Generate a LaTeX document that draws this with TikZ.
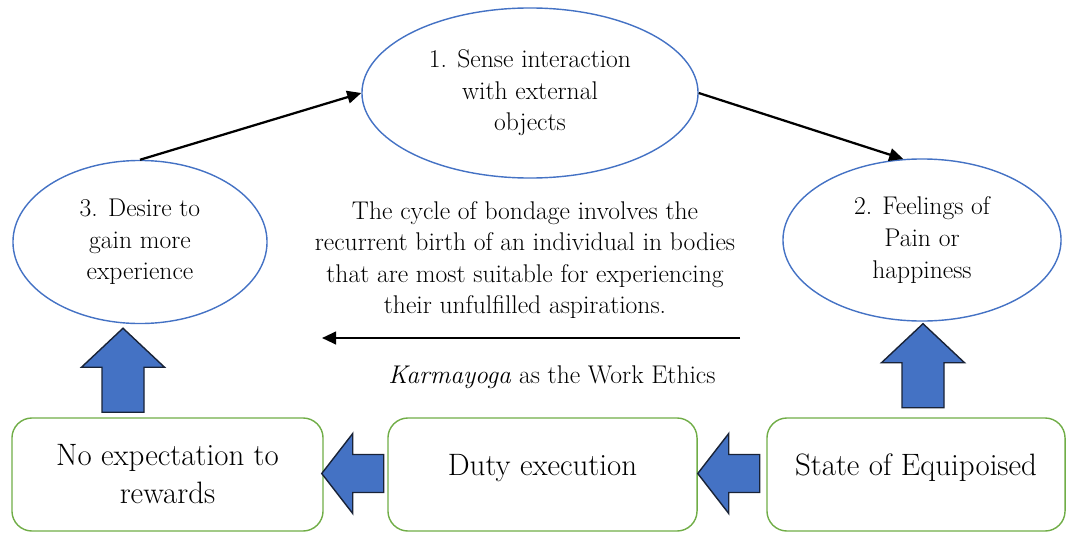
\documentclass[tikz,border=0pt]{standalone}
\usetikzlibrary{positioning, arrows.meta, shapes.geometric, calc}
\definecolor{ovalblue}  {RGB}{68, 114, 196}
\definecolor{boxgreen}  {RGB}{112, 173, 71}
\definecolor{arrowedge} {RGB}{25, 35, 55}
\tikzset{
  % Stage of the cycle
  stage/.style={
    ellipse, inner sep=0pt,
    draw=ovalblue, line width=1pt,
    font=\fontsize{18.2}{22.5}\selectfont, align=center, text=black
  },
  % Free text
  note/.style={font=\fontsize{18.2}{22.5}\selectfont, align=center},
  % Work ethics box
  ethic/.style={
    rectangle, rounded corners=0.5cm,
    minimum height=2.825cm,
    draw=boxgreen, line width=1pt,
    font=\fontsize{22}{27}\selectfont, align=center, text=black
  },
  % Thin cycle arrow
  arr/.style={-{Triangle[length=10pt, width=9pt]}, line width=1.6pt, color=black},
  % Fat block arrows, tip at the pic origin
  fat/.style={fill=ovalblue, draw=arrowedge, line width=1pt},
  pics/fatup/.style={code={
    \draw[fat] (0,0) -- (41.5,39) -- (21,39) -- (21,84) -- (-21,84)
      -- (-21,39) -- (-41.5,39) -- cycle;}},
  pics/fatleft/.style={code={
    \draw[fat] (0,0) -- (31,-40) -- (31,-19) -- (62,-19) -- (62,19)
      -- (31,19) -- (31,40) -- cycle;}},
}
\begin{document}
\begin{tikzpicture}[x=0.025cm, y=-0.025cm]
  \useasboundingbox (0,0) rectangle (1069,532);
  % the three stages
  \node[stage, minimum width=8.4cm, minimum height=4.25cm] (sense) at (530,93)
    {1. Sense interaction\\with external\\objects};
  \node[stage, minimum width=6.95cm, minimum height=4.05cm] (feel) at (922,240)
    {2. Feelings of\\Pain or\\happiness};
  \node[stage, minimum width=6.35cm, minimum height=4.075cm] (desire) at (140,242)
    {3. Desire to\\gain more\\experience};
  \draw[arr] (desire.north) -- (sense.west);
  \draw[arr] (sense.east) -- (feel.103);
  % middle text
  \node[note] (bondage) at (525,260)
    {The cycle of bondage involves the\\recurrent birth of an individual in bodies\\that are most suitable for experiencing\\their unfulfilled aspirations.};
  \coordinate (kr) at (740,338);
  \coordinate (kl) at (322,338);
  \draw[arr] (kr) -- (kl);
  \node[note] (karma) at (552,377) {\textit{Karmayoga} as the Work Ethics};
  % work ethics boxes
  \node[ethic, minimum width=7.775cm] (noexp) at (167.5,474.5) {No expectation to\\rewards};
  \node[ethic, minimum width=7.725cm, text depth=0.5cm] (duty) at (542.5,474.5) {Duty execution};
  \node[ethic, minimum width=7.45cm, text depth=0.5cm] (equi) at (916,474.5) {State of Equipoised};
  % block arrows
  \pic (up1) at ($(desire.south)+(-17,4)$) {fatup};
  \pic (up2) at ($(feel.south)+(1,2)$) {fatup};
  \pic (lf1) at ($(noexp.east)+(-2,-1)$) {fatleft};
  \pic (lf2) at ($(duty.east)+(0,-1)$) {fatleft};
\end{tikzpicture}
\end{document}
